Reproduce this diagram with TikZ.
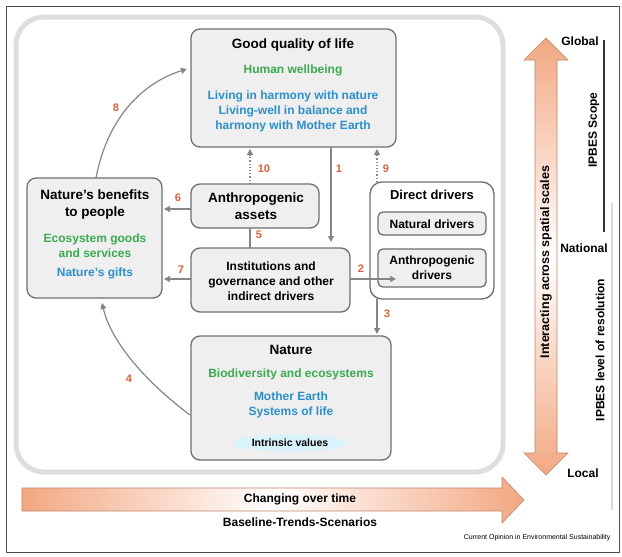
\documentclass[tikz,border=0pt]{standalone}
\usepackage{fontspec}
\setmainfont{Liberation Sans}
\usetikzlibrary{arrows.meta,shapes.geometric,shapes.arrows}
\definecolor{gr}{HTML}{3AAA50}
\definecolor{bl}{HTML}{2A8FD0}
\definecolor{og}{HTML}{E0603A}
\definecolor{ar}{HTML}{858585}
\definecolor{bx}{HTML}{EFEFEF}
\definecolor{bd}{HTML}{6E6E6E}
\definecolor{pe}{HTML}{F2A882}
\begin{document}
\begin{tikzpicture}[x=1pt,y=-1pt,font=\bfseries\fontsize{12}{15}\selectfont,
 box/.style={draw=bd,line width=1.3pt,fill=bx,rounded corners=9pt},
 con/.style={draw=ar,line width=1.2pt,-{Triangle[length=6pt,width=6pt]}},
 dcon/.style={con,dotted},
 num/.style={text=og,font=\bfseries\fontsize{11}{13}\selectfont},
 tx/.style={align=center,inner sep=0pt},
 ttl/.style={tx,font=\bfseries\fontsize{13.5}{17}\selectfont}]
\useasboundingbox (0,0) rectangle (622,557);
\draw[line width=1pt,draw=black!70] (6,6) rectangle (619,552);
\draw[line width=5pt,draw=black!13,rounded corners=28pt] (16,17) rectangle (503,472);
% boxes
\draw[box] (191,29) rectangle (396,147);
\node[ttl] (gq) at (293,45) {Good quality of life};
\node[tx,text=gr] at (293,70) {Human wellbeing};
\node[tx,text=bl] at (293,111) {Living in harmony with nature\\Living-well in balance and\\harmony with Mother Earth};
\draw[box] (27,178) rectangle (162,298);
\node[ttl] (nb) at (95,205) {Nature’s benefits\\to people};
\node[tx,text=gr] at (95,246) {Ecosystem goods\\and services};
\node[tx,text=bl] at (95,273) {Nature’s gifts};
\draw[box] (191,184) rectangle (319,228);
\node[ttl] (aa) at (256,206) {Anthropogenic\\assets};
\draw[box] (191,248) rectangle (350,312);
\node[tx] (ig) at (271,281) {Institutions and\\governance and other\\indirect drivers};
\draw[line width=1.3pt,draw=bd,fill=white,rounded corners=12pt] (370,182) rectangle (494,299);
\node[tx,font=\bfseries\fontsize{13}{15}\selectfont] at (432,195) {Direct drivers};
\draw[box,rounded corners=5pt] (378,212) rectangle (486,235);
\node[tx] at (432,224) {Natural drivers};
\draw[box,rounded corners=5pt] (378,249) rectangle (486,287);
\node[tx] at (432,268) {Anthropogenic\\drivers};
\draw[box] (191,336) rectangle (391,460);
\node[ttl] (na) at (291,350) {Nature};
\node[tx,text=gr] at (291,374) {Biodiversity and ecosystems};
\node[tx,text=bl] at (291,405) {Mother Earth\\Systems of life};
\node[ellipse,fill=cyan!15,minimum width=115pt,minimum height=17pt,inner sep=0pt,font=\bfseries\fontsize{10.5}{12}\selectfont] (iv) at (290,443) {Intrinsic values};
% connectors
\coordinate (n8a) at (96,178); \coordinate (n8b) at (187,69);
\draw[con] (n8a) .. controls (108,115) and (145,82) .. (n8b);
\node[num] at (116,108) {8};
\coordinate (a10) at (250,184); \coordinate (b10) at (250,149);
\draw[dcon] (a10) -- (b10); \node[num] at (264,169) {10};
\coordinate (a1) at (331,147); \coordinate (b1) at (331,242);
\draw[con] (a1) -- (b1); \node[num] at (339,169) {1};
\coordinate (a9) at (377,182); \coordinate (b9) at (377,149);
\draw[dcon] (a9) -- (b9); \node[num] at (386,169) {9};
\coordinate (a6) at (191,209); \coordinate (b6) at (164,209);
\draw[con] (a6) -- (b6); \node[num] at (178,198) {6};
\coordinate (a5) at (250,228); \coordinate (b5) at (250,248);
\draw[draw=ar,line width=1.2pt] (a5) -- (b5); \node[num] at (259,235) {5};
\coordinate (a7) at (191,279); \coordinate (b7) at (164,279);
\draw[con] (a7) -- (b7); \node[num] at (181,270) {7};
\coordinate (a2) at (350,279); \coordinate (b2) at (396,279);
\draw[con] (a2) -- (b2); \node[num] at (361,269) {2};
\coordinate (a3) at (377,299); \coordinate (b3) at (377,334);
\draw[con] (a3) -- (b3); \node[num] at (387,314) {3};
\coordinate (a4) at (190,415); \coordinate (b4) at (102,303);
\draw[con] (a4) .. controls (150,385) and (112,345) .. (b4); \node[num] at (129,379) {4};
% vertical scale arrow
\shade[top color=pe,bottom color=pe,middle color=white,draw=pe!80!black,line width=0.6pt]
 (546,38) -- (568,60) -- (557,60) -- (557,453) -- (568,453) -- (546,475) -- (524,453) -- (535,453) -- (535,60) -- (524,60) -- cycle;
\node[rotate=90,font=\bfseries\fontsize{12.5}{15}\selectfont] at (546,262) {Interacting across spatial scales};
\node at (580,41) {Global};
\draw[line width=2.5pt,draw=black!80] (604,40) -- (604,232);
\node[rotate=90] at (594,130) {IPBES Scope};
\node at (584,248) {National};
\draw[line width=2.5pt,draw=black!15] (612,203) -- (612,510);
\node[rotate=90] at (600,350) {IPBES level of resolution};
\node at (583,473) {Local};
% horizontal arrow
\shade[left color=pe,right color=pe,middle color=white,draw=pe!80!black,line width=0.6pt]
 (22,488) -- (502,488) -- (502,477) -- (524,500) -- (502,523) -- (502,511) -- (22,511) -- cycle;
\node at (300,499) {Changing over time};
\node at (300,522) {Baseline-Trends-Scenarios};
\node[anchor=east,font=\fontsize{7}{8}\selectfont] at (614,538) {Current Opinion in Environmental Sustainability};
\end{tikzpicture}
\end{document}
